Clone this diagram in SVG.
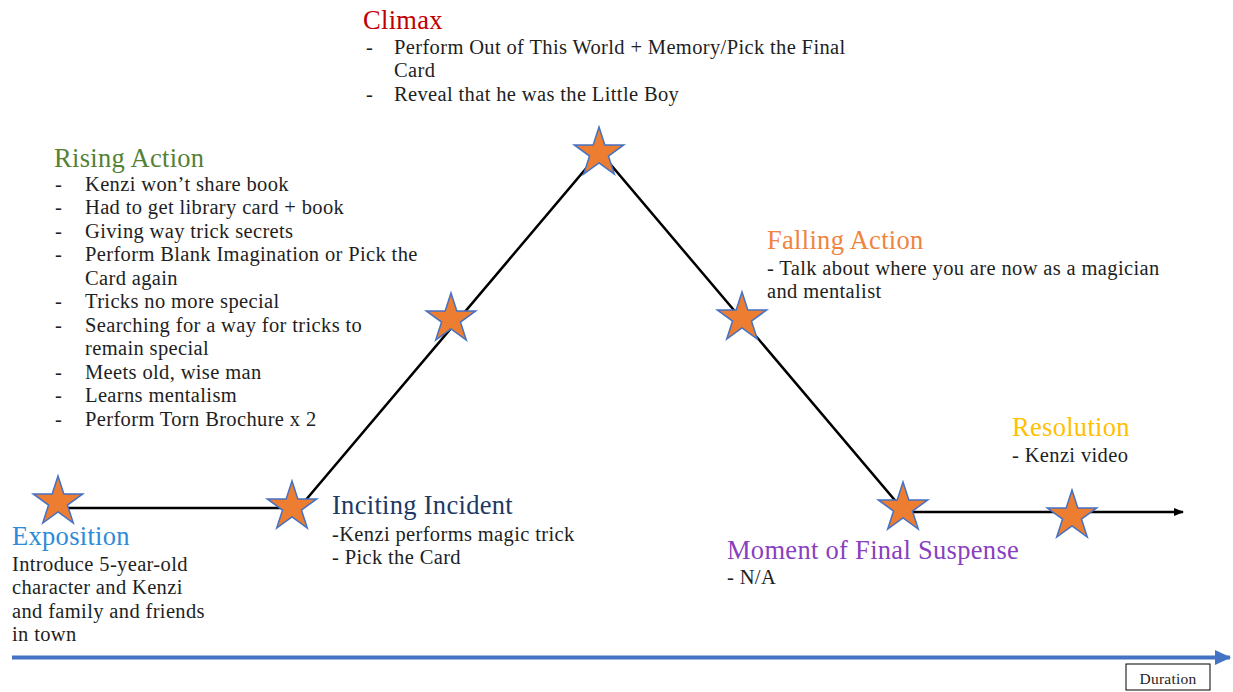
<svg xmlns="http://www.w3.org/2000/svg" width="1233" height="692" viewBox="0 0 1233 692">
  <style>
    text { font-family: "Liberation Serif", "Times New Roman", serif; }
    .body { font-size: 20.5px; letter-spacing: 0.36px; fill: #1e1e1e; }
    .title { font-size: 26.5px; letter-spacing: 0.3px; }
    .plot { fill: none; stroke: #000; stroke-width: 2.5; }
    .star { fill: #ED7D31; stroke: #4472C4; stroke-width: 1.5; stroke-linejoin: miter; }
  </style>
  <defs>
    <path id="star5" d="M0,-26 L5.83,-8.02 L24.73,-8.03 L9.44,3.07 L15.28,21.03 L0,9.93 L-15.28,21.03 L-9.44,3.07 L-24.73,-8.03 L-5.83,-8.02 Z"/>
    <marker id="headBlack" markerWidth="10" markerHeight="10" refX="9" refY="5" orient="auto" markerUnits="userSpaceOnUse">
      <path d="M0,1 L10,5 L0,9 Z" fill="#000"/>
    </marker>
    <marker id="headBlue" markerWidth="16" markerHeight="16" refX="15" refY="8" orient="auto" markerUnits="userSpaceOnUse">
      <path d="M0,0.5 L16,8 L0,15.5 Z" fill="#4472C4"/>
    </marker>
  </defs>

  <rect width="1233" height="692" fill="#fff"/>

  <!-- time axis -->
  <g id="axis">
    <line x1="12" y1="657.5" x2="1230" y2="657.5" stroke="#4472C4" stroke-width="4" marker-end="url(#headBlue)"/>
    <rect x="1126" y="664" width="84" height="26" fill="#fff" stroke="#000" stroke-width="1"/>
    <text x="1168" y="683.5" class="body" style="font-size:15.5px;letter-spacing:0.25px" text-anchor="middle">Duration</text>
  </g>

  <!-- plot line -->
  <g id="connectors">
    <polyline class="plot" points="58,508 299,508 600,152 904,511"/>
    <line class="plot" x1="904" y1="512" x2="1183" y2="512" marker-end="url(#headBlack)"/>
  </g>

  <!-- stars -->
  <g id="stars">
    <use href="#star5" class="star" x="58" y="502"/>
    <use href="#star5" class="star" x="292" y="507"/>
    <use href="#star5" class="star" x="451" y="319"/>
    <use href="#star5" class="star" x="599" y="153"/>
    <use href="#star5" class="star" x="742" y="318"/>
    <use href="#star5" class="star" x="903" y="508"/>
    <use href="#star5" class="star" x="1072" y="516"/>
  </g>

  <g id="exposition">
    <text x="12" y="545" class="title" fill="#2E8BD8">Exposition</text>
    <text class="body">
      <tspan x="12" y="570.5">Introduce 5-year-old</tspan>
      <tspan x="12" y="594">character and Kenzi</tspan>
      <tspan x="12" y="617.5">and family and friends</tspan>
      <tspan x="12" y="641">in town</tspan>
    </text>
  </g>

  <g id="inciting-incident">
    <text x="332" y="514" class="title" fill="#203864">Inciting Incident</text>
    <text class="body">
      <tspan x="332" y="540.5">-Kenzi performs magic trick</tspan>
      <tspan x="332" y="563.5">- Pick the Card</tspan>
    </text>
  </g>

  <g id="rising-action">
    <text x="54" y="167" class="title" fill="#538135">Rising Action</text>
    <text class="body">
      <tspan x="55" y="190.5">-</tspan><tspan x="85" y="190.5">Kenzi won’t share book</tspan>
      <tspan x="55" y="214">-</tspan><tspan x="85" y="214">Had to get library card + book</tspan>
      <tspan x="55" y="237.5">-</tspan><tspan x="85" y="237.5">Giving way trick secrets</tspan>
      <tspan x="55" y="261">-</tspan><tspan x="85" y="261">Perform Blank Imagination or Pick the</tspan>
      <tspan x="85" y="284.5">Card again</tspan>
      <tspan x="55" y="308">-</tspan><tspan x="85" y="308">Tricks no more special</tspan>
      <tspan x="55" y="331.5">-</tspan><tspan x="85" y="331.5">Searching for a way for tricks to</tspan>
      <tspan x="85" y="355">remain special</tspan>
      <tspan x="55" y="378.5">-</tspan><tspan x="85" y="378.5">Meets old, wise man</tspan>
      <tspan x="55" y="402">-</tspan><tspan x="85" y="402">Learns mentalism</tspan>
      <tspan x="55" y="425.5">-</tspan><tspan x="85" y="425.5">Perform Torn Brochure x 2</tspan>
    </text>
  </g>

  <g id="climax">
    <text x="363" y="29" class="title" fill="#C00000">Climax</text>
    <text class="body">
      <tspan x="366" y="53.5">-</tspan><tspan x="394" y="53.5">Perform Out of This World + Memory/Pick the Final</tspan>
      <tspan x="394" y="77">Card</tspan>
      <tspan x="366" y="100.5">-</tspan><tspan x="394" y="100.5">Reveal that he was the Little Boy</tspan>
    </text>
  </g>

  <g id="falling-action">
    <text x="767" y="249" class="title" fill="#F0843F">Falling Action</text>
    <text class="body">
      <tspan x="767" y="274.5">- Talk about where you are now as a magician</tspan>
      <tspan x="767" y="298">and mentalist</tspan>
    </text>
  </g>

  <g id="final-suspense">
    <text x="727" y="559" class="title" fill="#8A3FC0">Moment of Final Suspense</text>
    <text x="727" y="583.5" class="body">- N/A</text>
  </g>

  <g id="resolution">
    <text x="1012" y="436" class="title" fill="#FFC000">Resolution</text>
    <text x="1012" y="461.5" class="body">- Kenzi video</text>
  </g>
</svg>
